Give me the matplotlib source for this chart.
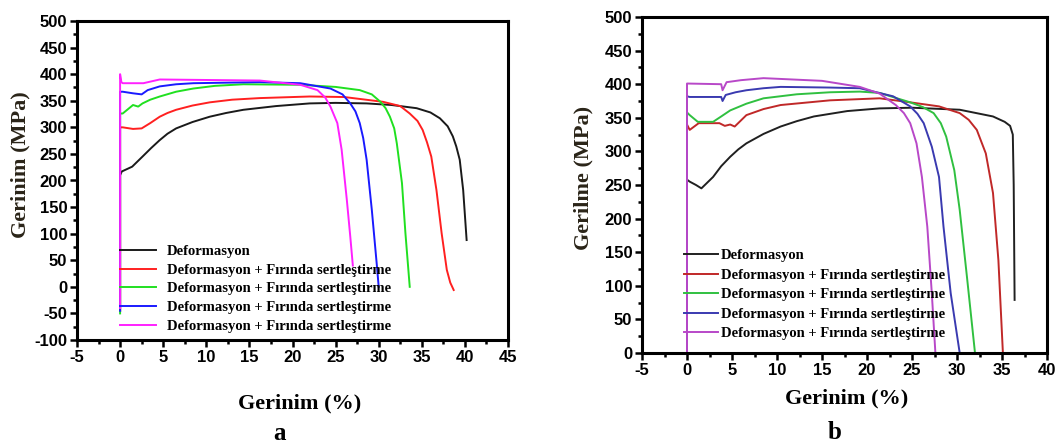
import matplotlib
matplotlib.use("Agg")
import matplotlib.pyplot as plt
from matplotlib.ticker import MultipleLocator

plt.rcParams["axes.unicode_minus"] = False

# --- veri: panel a ---
black_a_x = [0, 0, 0.2, 1.4, 2.6, 3.6, 4.6, 5.5, 6.5, 8.4, 10.4, 12.3, 14.3, 18.1, 22, 25, 28.6, 31.5, 34.4, 36, 37.1, 38.0, 38.6, 39.0, 39.4, 39.8, 40.2]
black_a_y = [-45, 210, 217, 226, 245, 261, 276, 288, 298, 310, 320, 327, 333, 340, 345, 346, 345, 342, 336, 328, 317, 302, 283, 264, 239, 182, 88]

red_a_x = [0, 0, 0.3, 1.5, 2.5, 3.5, 4.6, 5.5, 6.5, 8.4, 10.4, 13, 16.2, 22, 26, 30.5, 32.5, 33.6, 34.5, 35.1, 35.6, 36.1, 36.7, 37.3, 37.9, 38.3, 38.7]
red_a_y = [-45, 300, 300, 297, 298, 308, 320, 327, 333, 341, 347, 352, 355, 358, 357, 348, 340, 326, 312, 295, 272, 245, 182, 101, 32, 8, -6]

green_a_x = [0, 0, 0.3, 1.5, 2.1, 2.6, 3.5, 4.6, 6.5, 8.5, 11, 14.3, 20.9, 25, 27.8, 29.2, 30.2, 30.8, 31.3, 31.8, 32.1, 32.7, 33.1, 33.6]
green_a_y = [-50, 326, 326, 342, 339, 345, 352, 358, 367, 373, 378, 381, 380, 376, 370, 362, 348, 336, 320, 298, 270, 195, 101, 0]

blue_a_x = [0, 0, 0.3, 1.5, 2.5, 3.2, 4.6, 6.5, 8.5, 16.2, 20.9, 24.4, 25.8, 26.7, 27.3, 27.8, 28.2, 28.6, 29.2, 29.8, 30.0]
blue_a_y = [-45, 367, 367, 364, 362, 370, 377, 381, 383, 385, 383, 373, 362, 345, 330, 308, 280, 239, 145, 38, 0]

mag_a_x = [0, 0, 0.15, 0.3, 2.7, 4.6, 10.4, 16.2, 20.9, 22.9, 23.8, 24.4, 25.2, 25.7, 26.3, 26.7, 27.0]
mag_a_y = [-40, 400, 385, 383, 383, 390, 389, 388, 380, 370, 356, 339, 308, 258, 164, 95, 40]

# --- veri: panel b ---
black_b_x = [0, 0, 0.3, 1.0, 1.6, 2.9, 3.8, 4.8, 5.7, 6.6, 8.5, 10.4, 12.2, 14.1, 17.8, 21.4, 25, 30.3, 34, 35.3, 35.9, 36.2, 36.3, 36.4]
black_b_y = [0, 258, 255, 250, 245, 262, 278, 292, 303, 312, 326, 337, 345, 352, 360, 364, 365, 362, 352, 344, 338, 325, 250, 79]

red_b_x = [0, 0, 0.3, 1.3, 3.6, 4.2, 4.8, 5.3, 6.6, 8.5, 10.4, 15.9, 21.4, 24.8, 28, 30.3, 31.3, 32.2, 33.2, 34, 34.6, 35.1]
red_b_y = [0, 340, 332, 342, 342, 338, 340, 337, 354, 363, 369, 376, 379, 373, 367, 357, 347, 332, 297, 238, 138, 0]

green_b_x = [0, 0, 0.3, 1.2, 2.9, 3.8, 4.8, 6.6, 8.5, 12.2, 15.9, 19.2, 21.4, 24.8, 26.2, 27.4, 28.2, 28.8, 29.7, 30.3, 31.1, 32.0]
green_b_y = [0, 358, 354, 344, 344, 352, 361, 371, 379, 385, 388, 389, 387, 373, 366, 357, 342, 322, 272, 213, 114, 0]

blue_b_x = [0, 0, 0.3, 3.8, 3.95, 4.3, 5.4, 6.6, 8.5, 10.4, 15.9, 19.2, 22.9, 24.8, 25.6, 26.3, 27.2, 28, 28.5, 29.3, 30.3]
blue_b_y = [0, 382, 381, 381, 375, 384, 388, 391, 394, 396, 395, 394, 382, 367, 356, 342, 307, 262, 188, 89, 0]

mag_b_x = [0, 0, 3.8, 3.95, 4.4, 6, 8.5, 15, 19.2, 21.4, 23.2, 24.1, 24.8, 25.5, 26.1, 26.7, 27.2, 27.6]
mag_b_y = [0, 401, 400, 391, 403, 406, 409, 405, 396, 386, 369, 357, 342, 312, 262, 188, 89, 0]

etiketler = ["Deformasyon",
             "Deformasyon + Fırında sertleştirme",
             "Deformasyon + Fırında sertleştirme",
             "Deformasyon + Fırında sertleştirme",
             "Deformasyon + Fırında sertleştirme"]

renk_a = ["#1a1a1a", "#ff2020", "#20e020", "#1a1aff", "#ff20ff"]
renk_b = ["#202020", "#c02828", "#30c040", "#3a3ab0", "#b848c8"]

W, H = 1061, 448
fig = plt.figure(figsize=(W / 100, H / 100), dpi=100)

serif = {"family": "Liberation Serif", "weight": "bold"}
tick_font = {"family": "Liberation Sans", "weight": "bold", "size": 12}


def eksen_ayarla(ax, xlim, ylim):
    ax.set_xlim(*xlim)
    ax.set_ylim(*ylim)
    ax.xaxis.set_major_locator(MultipleLocator(5))
    ax.xaxis.set_minor_locator(MultipleLocator(2.5))
    ax.yaxis.set_major_locator(MultipleLocator(50))
    ax.yaxis.set_minor_locator(MultipleLocator(25))
    for s in ax.spines.values():
        s.set_linewidth(2.2)
    ax.tick_params(which="both", direction="out", top=False, right=False, width=1.8)
    ax.tick_params(which="major", length=5, pad=2)
    ax.tick_params(which="minor", length=3)
    for lab in ax.get_xticklabels() + ax.get_yticklabels():
        lab.set_fontfamily(tick_font["family"])
        lab.set_fontweight(tick_font["weight"])
        lab.set_fontsize(tick_font["size"])


# panel a
ax1 = fig.add_axes([77 / W, 1 - 340 / H, 431 / W, 319 / H])
seriler_a = [(black_a_x, black_a_y), (red_a_x, red_a_y), (green_a_x, green_a_y),
             (blue_a_x, blue_a_y), (mag_a_x, mag_a_y)]
for (x, y), c, lab in zip(seriler_a, renk_a, etiketler):
    ax1.plot(x, y, color=c, lw=1.4, label=lab)
eksen_ayarla(ax1, (-5, 45), (-100, 500))
ax1.legend(loc="upper left", bbox_to_anchor=(120 / W, 1 - 245 / H), bbox_transform=fig.transFigure,
           frameon=False, prop={"family": "Liberation Serif", "weight": "bold", "size": 10.5},
           handlelength=2.5, handletextpad=0.7, labelspacing=0.37, borderpad=0, borderaxespad=0)

# panel b
ax2 = fig.add_axes([642 / W, 1 - 353 / H, 405 / W, 336 / H])
seriler_b = [(black_b_x, black_b_y), (red_b_x, red_b_y), (green_b_x, green_b_y),
             (blue_b_x, blue_b_y), (mag_b_x, mag_b_y)]
for (x, y), c, lab in zip(seriler_b, renk_b, etiketler):
    ax2.plot(x, y, color=c, lw=1.4, label=lab)
eksen_ayarla(ax2, (-5, 40), (0, 500))
ax2.legend(loc="upper left", bbox_to_anchor=(684 / W, 1 - 249 / H), bbox_transform=fig.transFigure,
           frameon=False, prop={"family": "Liberation Serif", "weight": "bold", "size": 10.5},
           handlelength=2.3, handletextpad=0.25, labelspacing=0.43, borderpad=0, borderaxespad=0)

# eksen yazilari
fig.text(300 / W, 1 - 403 / H, "Gerinim (%)", ha="center", va="center", fontsize=16, **serif)
fig.text(20 / W, 1 - 165 / H, "Gerinim (MPa)", ha="center", va="center", rotation=90,
         fontsize=16, color="#2a2418", **serif)
fig.text(280 / W, 1 - 433 / H, "a", ha="center", va="center", fontsize=18, **serif)

fig.text(847 / W, 1 - 398 / H, "Gerinim (%)", ha="center", va="center", fontsize=16, **serif)
fig.text(583 / W, 1 - 178 / H, "Gerilme (MPa)", ha="center", va="center", rotation=90,
         fontsize=16, color="#2a2418", **serif)
fig.text(835 / W, 1 - 432 / H, "b", ha="center", va="center", fontsize=18, **serif)

fig.savefig("out.png", dpi=100)
